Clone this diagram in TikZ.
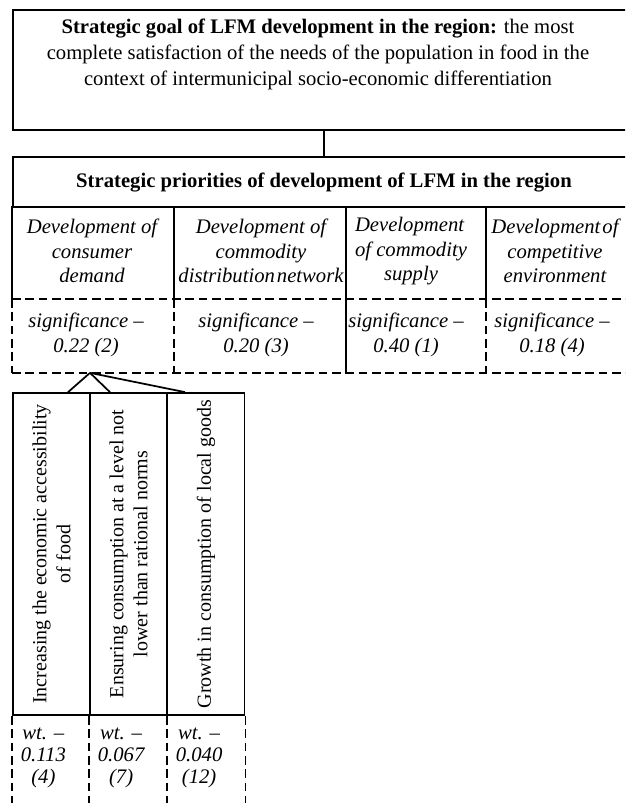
\documentclass[tikz,border=0pt]{standalone}
\usepackage{fontspec}
\setmainfont{Liberation Serif}
\begin{document}
\begin{tikzpicture}[x=0.75pt,y=-0.75pt,
  line width=1.3pt,
  frame/.style={draw, rectangle, inner sep=0pt},
  cell/.style={rectangle, inner sep=0pt},
  txt/.style={align=center, font=\fontsize{15.5}{19.5}\selectfont, inner sep=0pt},
  itxt/.style={align=center, font=\fontsize{15.5}{18.5}\selectfont\itshape, inner sep=0pt},
  rtxt/.style={align=center, font=\fontsize{15}{18}\selectfont, inner sep=0pt},
  wtxt/.style={align=center, font=\fontsize{15.5}{16.5}\selectfont\itshape, inner sep=0pt, anchor=west},
  dsh/.style={dash pattern=on 6.5pt off 3.5pt},
]
\useasboundingbox (0,0) rectangle (625,803);
\clip (0,0) rectangle (625,803);

% goal box
\node[frame, minimum width=460.5pt, minimum height=90pt] (goal) at (320,70) {};
\node[txt] (goaltext) at (318,54) {\textbf{Strategic goal of LFM development in the region:} the most\\complete satisfaction of the needs of the population in food in the\\context of intermunicipal socio-economic differentiation};

% priorities title
\node[frame, minimum width=460.5pt, minimum height=37.5pt] (prio) at (320,182) {};
\node[txt] (priotext) at (324,183) {\textbf{Strategic priorities of development of LFM in the region}};

\draw ([xshift=3pt]goal.south) -- ([xshift=3pt]prio.north);

% row 1 cells
\node[cell, minimum width=121.5pt, minimum height=69.75pt] (c1) at (94,253.5) {};
\node[cell, minimum width=129pt, minimum height=69.75pt] (c2) at (261,253.5) {};
\node[cell, minimum width=105pt, minimum height=69.75pt] (c3) at (417,253.5) {};
\node[cell, minimum width=105pt, minimum height=69.75pt] (c4) at (557,253.5) {};
\node[itxt] (c1t) at (92,251) {Development of\\consumer\\demand};
\node[itxt] (c2t) at (261,251) {Development of\\commodity\\distribution\hspace{1.5pt}network};
\node[itxt] (c3t) at (411,251) {\rlap{Development}\phantom{of commodity}\\of commodity\\supply};
\node[itxt] (c4t) at (555,251) {Development\hspace{1.5pt}of\\competitive\\environment};

% row 2 cells
\node[cell, minimum width=121.5pt, minimum height=54pt] (s1) at (94,336) {};
\node[cell, minimum width=129pt, minimum height=54pt] (s2) at (261,336) {};
\node[cell, minimum width=105pt, minimum height=54pt] (s3) at (417,336) {};
\node[cell, minimum width=105pt, minimum height=54pt] (s4) at (557,336) {};
\node[itxt] (s1t) at (86,335) {significance --\\0.22 (2)};
\node[itxt] (s2t) at (256,335) {significance --\\0.20 (3)};
\node[itxt] (s3t) at (406,335) {significance --\\0.40 (1)};
\node[itxt] (s4t) at (552,335) {significance --\\0.18 (4)};

% solid verticals
\draw (c1.north west) -- (c1.south west);
\draw (c2.north west) -- (c2.south west);
\draw (c3.north west) -- (s3.south west);
\draw (c4.north west) -- (c4.south west);
% dashed frame of row 2
\draw[dsh] (s1.north west) -- (s4.north east);
\draw[dsh] (s1.south west) -- (s4.south east);
\draw[dsh] (s1.north west) -- (s1.south west);
\draw[dsh] (s2.north west) -- (s2.south west);
\draw[dsh] (s4.north west) -- (s4.south west);

% rotated boxes
\node[frame, rotate=90, minimum width=241.5pt, minimum height=57.75pt, rtxt] (b1) at (51.5,554)
  {Increasing the economic accessibility\\of food};
\node[frame, rotate=90, minimum width=241.5pt, minimum height=57.75pt, rtxt] (b2) at (128.5,554)
  {Ensuring consumption at a level not\\lower than rational norms};
\node[frame, rotate=90, minimum width=241.5pt, minimum height=57.75pt, rtxt] (b3) at (206,554)
  {Growth in consumption of local goods};

\coordinate (apex) at ([xshift=-3pt]s1.south);
\draw (apex) -- ([xshift=12.4pt]b1.east);
\draw (apex) -- ([xshift=-13.9pt]b2.east);
\draw (apex) -- ([xshift=-15.75pt]b3.east);

% dashed weight cells
\draw[dsh] (b1.north west) -- ++(0,110);
\draw[dsh] (b2.north west) -- ++(0,110);
\draw[dsh] (b3.north west) -- ++(0,110);
\draw[dsh] (b3.south west) -- ++(0,110);

\node[wtxt] (w1) at (20,758) {wt. --\\0.113\\(4)};
\node[wtxt] (w2) at (97,758) {wt. --\\0.067\\(7)};
\node[wtxt] (w3) at (175,758) {wt. --\\0.040\\(12)};
\end{tikzpicture}
\end{document}
